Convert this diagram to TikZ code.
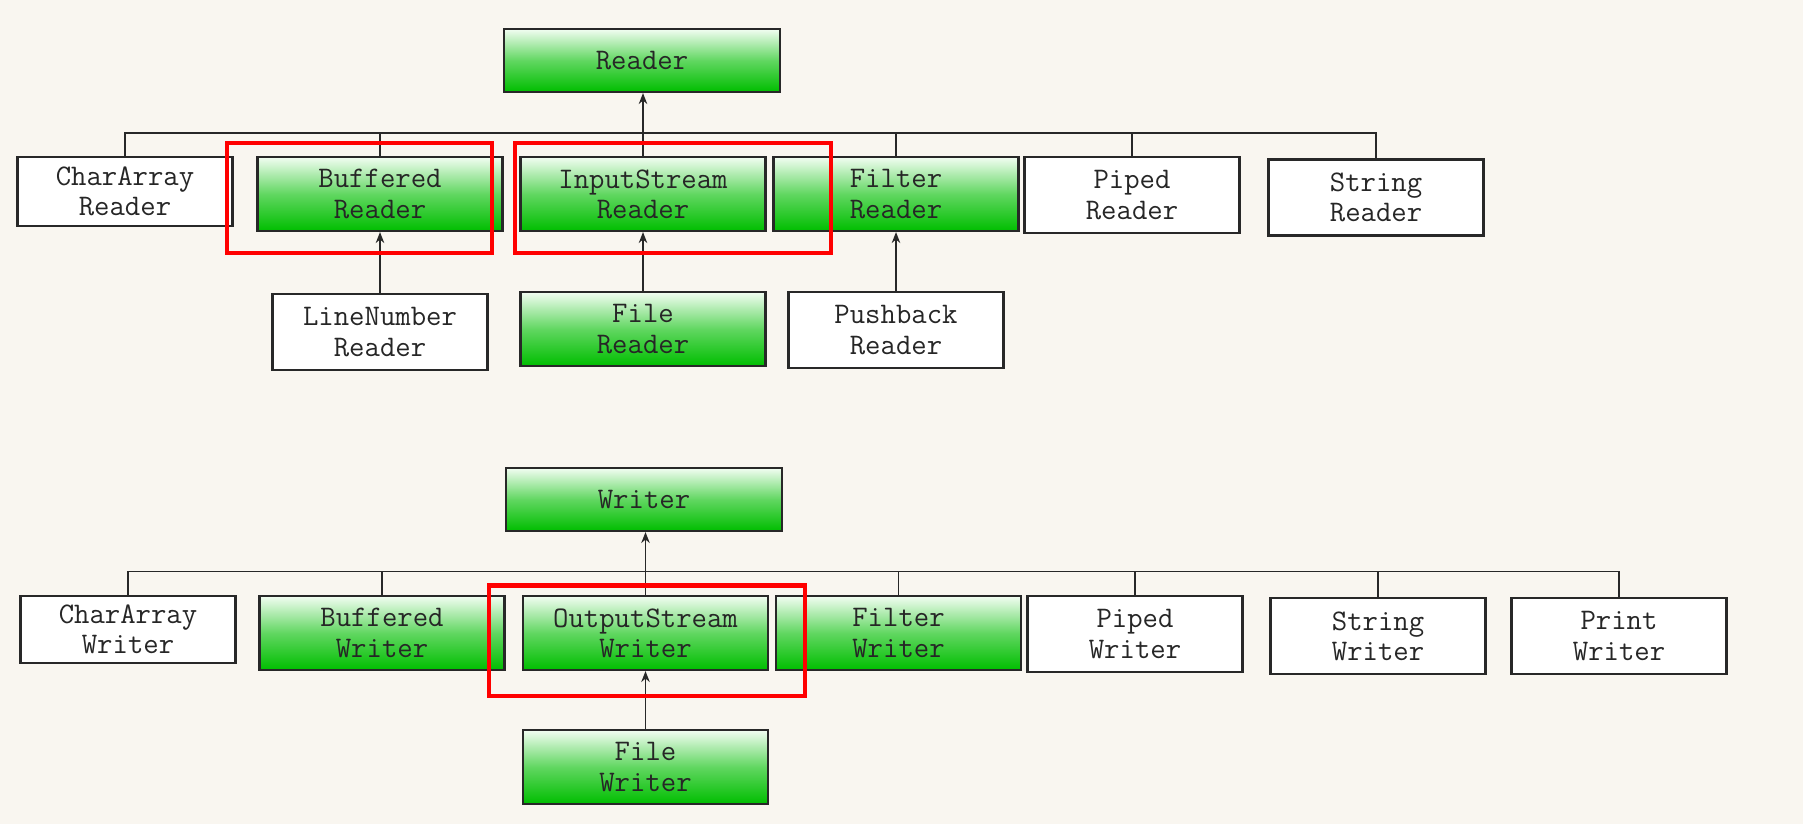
\documentclass[tikz,border=0pt]{standalone}
\usepackage{fontspec}
\usepackage{tikz}
\usetikzlibrary{arrows.meta}
\definecolor{bgpaper}{HTML}{F9F6F0}
\definecolor{lightgreen}{HTML}{F2FDF2}
\definecolor{deepgreen}{HTML}{00BE00}
\definecolor{framered}{HTML}{FF0000}
\definecolor{edgegray}{HTML}{282828}

\begin{document}
\begin{tikzpicture}[align=center,font=\ttfamily\fontsize{17pt}{17.2pt}\selectfont]
    \tikzstyle{cls} = [draw=edgegray,line width=1.2pt,inner sep=0pt,text=black!85]
    \tikzstyle{greencls} = [cls,top color=lightgreen,bottom color=deepgreen,middle color=deepgreen!62!white,minimum width=4.9cm,minimum height=1.48cm]
    \tikzstyle{whitecls} = [cls,fill=white,minimum width=4.3cm,minimum height=1.52cm]
    \tikzstyle{rootcls} = [greencls,minimum width=5.52cm,minimum height=1.26cm]
    \tikzstyle{link} = [draw=edgegray,line width=0.9pt]
    \tikzstyle{inherit} = [link,-{Stealth[length=0.22cm,width=0.17cm]}]
    \tikzstyle{redbox} = [draw=framered,line width=2.8pt]
      \fill[bgpaper] (0,0) rectangle (36.06,-16.48);
      \useasboundingbox (0,0) rectangle (36.06,-16.48);
      % reader side
      \node[rootcls] (reader) at (12.84,-1.21) {Reader};
      \node[whitecls,minimum height=1.38cm] (charR) at (2.50,-3.83) {CharArray\\Reader};
      \node[greencls] (bufR) at (7.60,-3.88) {Buffered\\Reader};
      \node[greencls] (isR) at (12.86,-3.88) {InputStream\\Reader};
      \node[greencls] (filR) at (17.92,-3.88) {Filter\\Reader};
      \node[whitecls] (pipR) at (22.64,-3.90) {Piped\\Reader};
      \node[whitecls] (strR) at (27.52,-3.95) {String\\Reader};
      \node[whitecls] (lnR) at (7.60,-6.64) {LineNumber\\Reader};
      \node[greencls] (fileR) at (12.86,-6.58) {File\\Reader};
      \node[whitecls] (pbR) at (17.92,-6.60) {Pushback\\Reader};
      \coordinate (rbus) at (12.86,-2.66);
      \draw[inherit] (rbus) -- (rbus |- reader.south);
      \draw[link] (charR.north) |- (rbus) -| (strR.north);
      \foreach \n in {bufR,isR,filR,pipR} \draw[link] (\n.north) -- (\n.north |- rbus);
      \foreach \a/\b in {lnR/bufR,fileR/isR,pbR/filR} \draw[inherit] (\a.north) -- (\b.south);
      \draw[redbox] (4.54,-2.86) rectangle (9.84,-5.06);
      \draw[redbox] (10.30,-2.86) rectangle (16.62,-5.06);
      % writer side
      \node[rootcls] (writer) at (12.88,-9.99) {Writer};
      \node[whitecls,minimum height=1.34cm] (charW) at (2.56,-12.59) {CharArray\\Writer};
      \node[greencls] (bufW) at (7.64,-12.66) {Buffered\\Writer};
      \node[greencls] (osW) at (12.91,-12.66) {OutputStream\\Writer};
      \node[greencls] (filW) at (17.97,-12.66) {Filter\\Writer};
      \node[whitecls] (pipW) at (22.70,-12.68) {Piped\\Writer};
      \node[whitecls] (strW) at (27.56,-12.72) {String\\Writer};
      \node[whitecls] (prW) at (32.38,-12.72) {Print\\Writer};
      \node[greencls] (fileW) at (12.91,-15.34) {File\\Writer};
      \coordinate (wbus) at (12.91,-11.43);
      \draw[inherit] (wbus) -- (wbus |- writer.south);
      \draw[link] (charW.north) |- (wbus) -| (prW.north);
      \foreach \n in {bufW,osW,filW,pipW,strW} \draw[link] (\n.north) -- (\n.north |- wbus);
      \draw[inherit] (fileW.north) -- (osW.south);
      \draw[redbox] (9.78,-11.71) rectangle (16.10,-13.92);
  \end{tikzpicture}
\end{document}
